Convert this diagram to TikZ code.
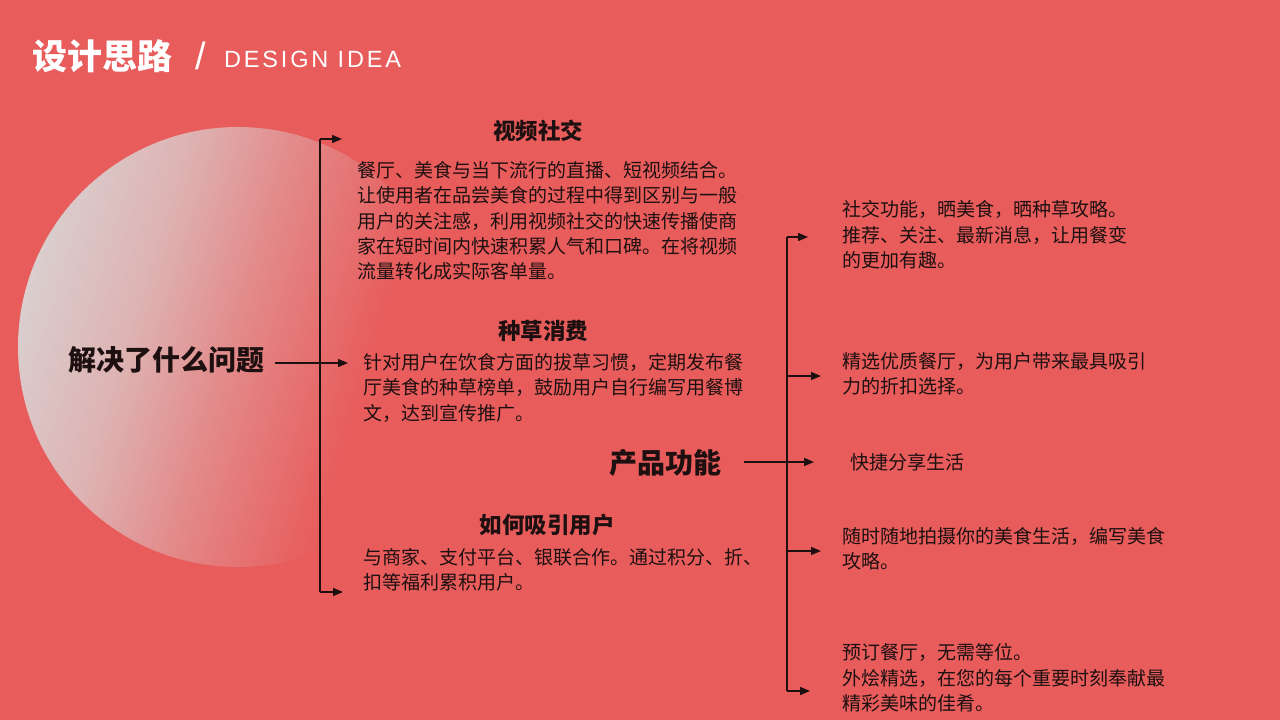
\documentclass[tikz,border=0pt]{standalone}
\usepackage{fontspec}
\setmainfont{Noto Sans CJK SC}
\newfontfamily\latinfont[LetterSpace=12]{Liberation Sans}
\newfontfamily\slashfont{Liberation Sans}
\usetikzlibrary{arrows.meta}

\definecolor{bgred}{RGB}{232,92,92}
\definecolor{glow}{RGB}{218,206,206}
\definecolor{glowsoft}{RGB}{222,178,178}
\definecolor{glowwarm}{RGB}{227,136,136}
\definecolor{ink}{RGB}{30,16,16}

\pgfdeclarehorizontalshading{glowshade}{100bp}{color(0bp)=(glow); color(25bp)=(glow);
  color(38bp)=(glowsoft); color(50bp)=(glowwarm); color(65bp)=(bgred); color(100bp)=(bgred)}

\tikzset{
  body/.style={font=\fontsize{19}{25.2}\selectfont, text=ink, align=left,
    anchor=north west, inner sep=0pt},
  heading/.style={font=\fontsize{22.5}{26}\selectfont\bfseries, text=ink, inner sep=0pt},
  topic/.style={font=\fontsize{28}{32}\selectfont\bfseries, text=ink, inner sep=0pt},
  link/.style={draw=ink, line width=1.3pt},
  pointer/.style={link, -{Triangle[length=10pt,width=8pt]}},
}

\begin{document}
\begin{tikzpicture}[x=1pt,y=-1pt]

  % background and glow
  \fill[bgred] (0,0) rectangle (1280,720);
  \useasboundingbox (0,0) rectangle (1280,720);
  \shade[shading=glowshade, shading angle=-17] (238,347) circle (220);

  % title
  \node[anchor=west, text=white, inner sep=0pt,
    font=\fontsize{35}{40}\selectfont\bfseries] (title) at (32,56) {设计思路};
  \node[text=white, inner sep=0pt, font=\slashfont\fontsize{38}{40}\selectfont]
    (slash) at (201,56) {/};
  \node[anchor=west, text=white, inner sep=0pt,
    font=\latinfont\fontsize{23.5}{26}\selectfont] (subtitle) at (224,59) {DESIGN IDEA};

  % left branch
  \node[topic] (problem) at (166,360) {解决了什么问题};

  \node[heading] (video) at (538,131) {视频社交};
  \node[body] (videotext) at (357,161.5) {餐厅、美食与当下流行的直播、短视频结合。\\
    让使用者在品尝美食的过程中得到区别与一般\\
    用户的关注感，利用视频社交的快速传播使商\\
    家在短时间内快速积累人气和口碑。在将视频\\
    流量转化成实际客单量。};

  \node[heading] (grass) at (543,331) {种草消费};
  \node[body] (grasstext) at (363,353.5) {针对用户在饮食方面的拔草习惯，定期发布餐\\
    厅美食的种草榜单，鼓励用户自行编写用餐博\\
    文，达到宣传推广。};

  \node[heading] (attract) at (547,525) {如何吸引用户};
  \node[body] (attracttext) at (363,548.5) {与商家、支付平台、银联合作。通过积分、折、\\
    扣等福利累积用户。};

  \coordinate (ltop) at (320,139);
  \coordinate (lbot) at (320,592);
  \coordinate (ltopend) at (342,139);
  \coordinate (lbotend) at (343,592);
  \coordinate (lmid) at (348,363);

  \draw[link] (ltop) -- (lbot);
  \draw[pointer] (ltop) -- (ltopend);
  \draw[pointer] (lbot) -- (lbotend);
  \draw[pointer] ([xshift=11pt]problem.east |- lmid) -- (lmid);

  % right branch
  \node[topic] (product) at (665,463) {产品功能};

  \node[body] (social) at (842,200.5) {社交功能，晒美食，晒种草攻略。\\
    推荐、关注、最新消息，让用餐变\\
    的更加有趣。};
  \node[body] (select) at (842,352.5) {精选优质餐厅，为用户带来最具吸引\\
    力的折扣选择。};
  \node[body, anchor=west] (share) at (850,462) {快捷分享生活};
  \node[body] (shoot) at (842,527.5) {随时随地拍摄你的美食生活，编写美食\\
    攻略。};
  \node[body] (book) at (842,643.5) {预订餐厅，无需等位。\\
    外烩精选，在您的每个重要时刻奉献最\\
    精彩美味的佳肴。};

  \coordinate (rtop) at (787,237);
  \coordinate (rbot) at (787,691);
  \coordinate (rtopend) at (808,237);
  \coordinate (rsecond) at (821,376);
  \coordinate (rmid) at (814,462);
  \coordinate (rfourth) at (821,551);
  \coordinate (rbotend) at (810,691);

  \draw[link] (rtop) -- (rbot);
  \draw[pointer] (rtop) -- (rtopend);
  \draw[pointer] (rtop |- rsecond) -- (rsecond);
  \draw[pointer] (rtop |- rfourth) -- (rfourth);
  \draw[pointer] (rbot) -- (rbotend);
  \draw[pointer] ([xshift=23pt]product.east |- rmid) -- (rmid);

\end{tikzpicture}
\end{document}
